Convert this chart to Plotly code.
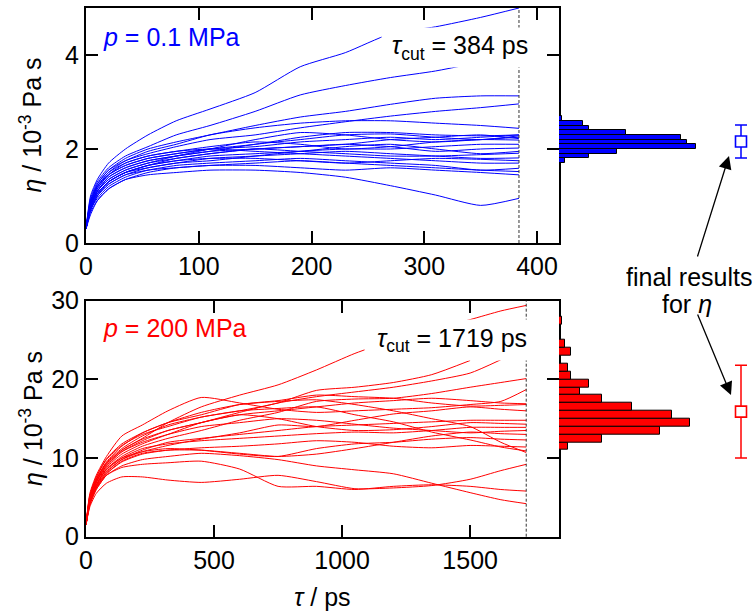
import plotly.graph_objects as go

W, H = 756, 612
def px(x):
    return x / W
def py(y):
    return 1 - y / H

FONT = "Arial, 'Liberation Sans', sans-serif"
BLUE = "rgb(0,0,255)"
RED = "rgb(255,0,0)"

# ---------------- data: p = 0.1 MPa ----------------
tau_01 = [0, 4, 10, 20, 35, 55, 80, 110, 150, 190, 230, 270, 310, 350, 384]
eta_01 = [
    [0.3, 1.0, 1.35, 1.7, 2.0, 2.3, 2.6, 2.85, 3.2, 3.75, 4.05, 4.45, 4.6, 4.8, 5.0],
    [0.3, 0.95, 1.3, 1.6, 1.85, 2.05, 2.3, 2.5, 2.8, 3.15, 3.35, 3.52, 3.66, 3.85, None],
    [0.3, 0.9, 1.25, 1.55, 1.8, 2.0, 2.15, 2.3, 2.5, 2.68, 2.8, 2.95, 3.08, 3.13, 3.13],
    [0.3, 0.85, 1.2, 1.5, 1.75, 1.9, 2.05, 2.2, 2.3, 2.45, 2.58, 2.7, 2.8, 2.88, 2.96],
    [0.3, 0.9, 1.25, 1.55, 1.75, 1.95, 2.1, 2.3, 2.45, 2.55, 2.6, 2.6, 2.55, 2.5, 2.44],
    [0.3, 0.85, 1.2, 1.45, 1.65, 1.8, 1.9, 2.0, 2.1, 2.25, 2.35, 2.35, 2.3, 2.28, 2.3],
    [0.3, 0.8, 1.1, 1.4, 1.6, 1.75, 1.85, 1.95, 2.1, 2.2, 2.3, 2.32, 2.25, 2.2, 2.28],
    [0.3, 0.8, 1.1, 1.35, 1.55, 1.7, 1.85, 2.0, 2.2, 2.35, 2.3, 2.2, 2.15, 2.2, 2.25],
    [0.3, 0.75, 1.05, 1.3, 1.5, 1.65, 1.8, 1.9, 2.0, 2.05, 2.1, 2.2, 2.25, 2.3, 2.22],
    [0.3, 0.85, 1.15, 1.45, 1.7, 1.85, 1.95, 2.05, 2.15, 2.1, 2.0, 2.05, 2.15, 2.2, 2.19],
    [0.3, 0.8, 1.1, 1.4, 1.6, 1.75, 1.85, 1.95, 2.0, 2.05, 2.1, 2.05, 1.95, 2.0, 2.02],
    [0.3, 0.75, 1.05, 1.3, 1.5, 1.65, 1.75, 1.85, 1.9, 1.95, 2.05, 2.1, 2.0, 1.9, 1.95],
    [0.3, 0.8, 1.1, 1.35, 1.55, 1.7, 1.8, 1.9, 2.0, 1.95, 1.9, 1.85, 1.85, 1.88, 1.91],
    [0.3, 0.7, 1.0, 1.25, 1.45, 1.6, 1.7, 1.8, 1.85, 1.9, 1.95, 1.9, 1.85, 1.8, 1.81],
    [0.3, 0.75, 1.05, 1.3, 1.5, 1.65, 1.75, 1.8, 1.8, 1.75, 1.7, 1.75, 1.8, 1.78, 1.75],
    [0.3, 0.7, 1.0, 1.25, 1.45, 1.55, 1.65, 1.7, 1.75, 1.8, 1.75, 1.7, 1.65, 1.55, 1.59],
    [0.3, 0.7, 0.95, 1.2, 1.4, 1.55, 1.6, 1.65, 1.7, 1.75, 1.7, 1.65, 1.6, 1.55, 1.52],
    [0.3, 0.65, 0.9, 1.15, 1.35, 1.5, 1.6, 1.65, 1.65, 1.6, 1.55, 1.6, 1.55, 1.5, 1.45],
    [0.3, 0.6, 0.9, 1.15, 1.35, 1.45, 1.5, 1.55, 1.55, 1.5, 1.4, 1.22, 1.02, 0.8, 0.95],
    [0.3, 0.8, 1.15, 1.45, 1.65, 1.8, 1.9, 2.0, 2.05, 2.15, 2.2, 2.25, 2.2, 2.25, 2.3],
    [0.3, 0.7, 1.0, 1.3, 1.5, 1.6, 1.7, 1.75, 1.85, 1.95, 2.0, 2.0, 2.05, 2.1, 2.1],
    [0.3, 0.85, 1.2, 1.5, 1.7, 1.85, 1.95, 2.0, 1.95, 1.9, 1.85, 1.8, 1.75, 1.7, 1.7],
]
tcut_01 = 384
hist_01_eta = [1.75, 1.85, 1.95, 2.05, 2.15, 2.25, 2.35, 2.45, 2.55, 2.65]
hist_01_count = [2, 10, 19, 45, 42, 40, 22, 10, 8, 1]
result_01 = 2.16
result_01_err = 0.35

# ---------------- data: p = 200 MPa ----------------
tau_200 = [0, 15, 40, 80, 140, 220, 320, 450, 600, 750, 900, 1050, 1200, 1350, 1500, 1620, 1719]
eta_200 = [
    [1.5, 5.0, 7.2, 9.3, 11.0, 12.5, 14.5, 16.5, 18.0, 19.3, 21.2, 23.3, 25.0, 26.4, 27.6, 28.7, 29.4],
    [1.5, 5.2, 7.5, 9.8, 11.6, 13.0, 14.0, 15.2, 16.0, 17.0, 18.6, 19.0, 19.6, 20.6, 22.4, None, None],
    [1.5, 4.8, 7.0, 9.0, 10.8, 12.2, 13.5, 14.5, 15.8, 17.0, 17.8, 18.4, 19.0, 19.8, 20.8, 22.5, None],
    [1.5, 4.5, 6.6, 8.6, 10.2, 11.5, 12.5, 13.5, 14.8, 15.8, 17.2, 17.5, 17.6, 18.2, 19.0, 19.6, 20.1],
    [1.5, 5.5, 7.8, 10.2, 12.8, 14.2, 16.0, 17.7, 17.0, 16.2, 15.8, 16.0, 16.2, 16.4, 16.8, 17.2, 18.7],
    [1.5, 4.6, 6.8, 8.8, 10.5, 11.8, 13.0, 14.5, 15.5, 16.0, 16.5, 17.0, 17.3, 17.6, 17.3, 17.0, 16.9],
    [1.5, 5.0, 7.3, 9.5, 11.5, 13.2, 14.5, 15.5, 16.8, 17.3, 18.0, 17.8, 17.6, 17.0, 16.6, 16.7, 16.8],
    [1.5, 4.3, 6.3, 8.2, 9.8, 11.0, 12.0, 12.5, 13.0, 13.5, 14.0, 14.2, 14.4, 14.6, 14.8, 14.8, 14.8],
    [1.5, 4.4, 6.5, 8.5, 10.0, 11.2, 11.8, 12.2, 12.5, 12.8, 13.1, 13.3, 13.2, 13.5, 13.9, 13.9, 13.9],
    [1.5, 4.7, 6.9, 9.0, 10.8, 12.0, 13.0, 14.0, 14.5, 15.0, 14.8, 14.3, 13.8, 13.5, 13.2, 13.4, 13.5],
    [1.5, 4.9, 7.2, 9.4, 11.2, 12.8, 14.2, 15.2, 16.0, 16.3, 16.5, 15.5, 14.6, 13.3, 12.3, 11.4, 10.9],
    [1.5, 5.3, 7.6, 9.9, 11.8, 13.2, 14.5, 15.8, 16.8, 17.2, 17.4, 16.8, 16.0, 15.0, 14.0, 12.0, 10.7],
    [1.5, 4.2, 6.2, 8.0, 9.5, 10.5, 11.0, 11.3, 11.5, 11.8, 12.2, 12.0, 11.5, 11.3, 11.6, 11.5, 11.4],
    [1.5, 4.5, 6.6, 8.6, 10.0, 10.8, 11.2, 11.0, 10.5, 10.2, 11.2, 11.8, 12.0, 12.4, 12.6, 12.4, 12.3],
    [1.5, 4.0, 6.0, 7.8, 9.0, 9.8, 10.2, 10.6, 10.3, 9.8, 9.0, 8.5, 8.0, 6.8, 5.6, 4.7, 4.2],
    [1.5, 3.8, 5.5, 6.8, 7.6, 7.6, 7.2, 6.9, 7.3, 7.8, 7.0, 6.1, 6.2, 6.5, 7.3, 8.4, 9.2],
    [1.5, 4.1, 6.0, 7.8, 8.8, 9.2, 9.4, 9.6, 8.6, 6.4, 6.4, 6.0, 6.4, 6.6, 6.4, 6.0, 5.8],
    [1.5, 4.8, 7.0, 9.2, 11.0, 12.4, 13.5, 14.5, 15.5, 15.0, 14.0, 13.5, 13.6, 14.0, 14.5, 14.4, 14.3],
    [1.5, 4.4, 6.4, 8.3, 9.8, 10.8, 11.6, 12.4, 13.2, 14.2, 14.0, 14.8, 15.6, 16.0, 16.5, 16.2, 16.0],
    [1.5, 4.3, 6.2, 8.0, 9.6, 10.6, 11.0, 11.0, 10.6, 10.2, 10.5, 11.2, 12.0, 12.8, 13.3, 13.1, 13.0],
]
tcut_200 = 1719
hist_200_eta = [11.5, 12.5, 13.5, 14.5, 15.5, 16.5, 17.5, 18.5, 19.5, 20.5, 21.5, 22.5, 23.5, 24.5, 25.5, 26.5, 27.5]
hist_200_count = [3, 14, 33, 43, 37, 24, 14, 7, 10, 4, 3, 0, 4, 2, 0, 0, 1]
result_200 = 15.9
result_200_err = 5.9

# ---------------- figure ----------------
fig = go.Figure()

for run in eta_01:
    fig.add_trace(go.Scatter(x=tau_01, y=run, mode="lines", xaxis="x", yaxis="y",
                             line=dict(color=BLUE, width=1, shape="spline", smoothing=0.6),
                             showlegend=False, hoverinfo="skip"))
for run in eta_200:
    fig.add_trace(go.Scatter(x=tau_200, y=run, mode="lines", xaxis="x2", yaxis="y2",
                             line=dict(color=RED, width=1, shape="spline", smoothing=0.6),
                             showlegend=False, hoverinfo="skip"))

fig.add_trace(go.Bar(x=hist_01_count, y=hist_01_eta, orientation="h", width=0.1,
                     xaxis="x3", yaxis="y", showlegend=False,
                     marker=dict(color=BLUE, line=dict(color="black", width=1))))
fig.add_trace(go.Bar(x=hist_200_count, y=hist_200_eta, orientation="h", width=1.0,
                     xaxis="x4", yaxis="y2", showlegend=False,
                     marker=dict(color=RED, line=dict(color="black", width=1))))

fig.add_trace(go.Scatter(x=[0], y=[result_01], mode="markers", xaxis="x5", yaxis="y",
                         showlegend=False,
                         marker=dict(symbol="square", size=11, color="white",
                                     line=dict(color=BLUE, width=1.6)),
                         error_y=dict(type="data", array=[result_01_err], color=BLUE,
                                      thickness=1.5, width=6)))
fig.add_trace(go.Scatter(x=[0], y=[result_200], mode="markers", xaxis="x6", yaxis="y2",
                         showlegend=False,
                         marker=dict(symbol="square", size=11, color="white",
                                     line=dict(color=RED, width=1.6)),
                         error_y=dict(type="data", array=[result_200_err], color=RED,
                                      thickness=1.5, width=6)))

axis_common = dict(showline=True, linecolor="black", linewidth=2, mirror="ticks",
                   ticks="inside", ticklen=12, tickwidth=1.5, tickcolor="black",
                   showgrid=False, zeroline=False, automargin=False,
                   tickfont=dict(family=FONT, size=25, color="black"))

hidden = dict(visible=False, showgrid=False, zeroline=False, automargin=False)

fig.update_layout(
    template="none",
    width=W, height=H, margin=dict(l=0, r=0, t=0, b=0, pad=0, autoexpand=False),
    paper_bgcolor="white", plot_bgcolor="white",
    bargap=0, showlegend=False,
    xaxis=dict(domain=[px(86), px(559)], anchor="y", range=[0, 419.5],
               tick0=0, dtick=100, **axis_common),
    yaxis=dict(domain=[py(243), py(8)], anchor="x", range=[0, 5],
               tick0=0, dtick=2, **axis_common),
    xaxis2=dict(domain=[px(86), px(559)], anchor="y2", range=[0, 1847],
                tick0=0, dtick=500, **axis_common),
    yaxis2=dict(domain=[py(536.7), py(300.7)], anchor="x2", range=[0, 30],
                tick0=0, dtick=10, **axis_common),
    xaxis3=dict(domain=[px(559), px(745)], anchor="y", range=[0, 61], **hidden),
    xaxis4=dict(domain=[px(559), px(745)], anchor="y2", range=[0, 61], **hidden),
    xaxis5=dict(domain=[px(726), 1], anchor="y", range=[-0.5, 0.5], **hidden),
    xaxis6=dict(domain=[px(726), 1], anchor="y2", range=[-0.5, 0.5], **hidden),
)

fig.add_shape(type="line", xref="x", yref="y domain", x0=tcut_01, x1=tcut_01, y0=0, y1=1,
              line=dict(color="#333", width=1, dash="3px,2px"))
fig.add_shape(type="line", xref="x2", yref="y2 domain", x0=tcut_200, x1=tcut_200, y0=0, y1=1,
              line=dict(color="#333", width=1, dash="3px,2px"))

ann = []
ann.append(dict(text="<i>p</i> = 0.1 MPa", xref="paper", yref="paper", x=px(101), y=py(37),
                xanchor="left", yanchor="middle", showarrow=False,
                font=dict(family=FONT, size=25, color=BLUE)))
ann.append(dict(text="<i>p</i> = 200 MPa", xref="paper", yref="paper", x=px(101), y=py(328),
                xanchor="left", yanchor="middle", showarrow=False,
                font=dict(family=FONT, size=25, color=RED)))
ann.append(dict(text="<i>τ</i><sub>cut</sub> = %d ps" % tcut_01, xref="paper", yref="paper",
                x=px(460), y=py(47.5), xanchor="center", yanchor="middle", showarrow=False,
                bgcolor="white", width=156, height=39, borderpad=0,
                font=dict(family=FONT, size=25, color="black")))
ann.append(dict(text="<i>τ</i><sub>cut</sub> = %d ps" % tcut_200, xref="paper", yref="paper",
                x=px(452), y=py(340), xanchor="center", yanchor="middle", showarrow=False,
                bgcolor="white", width=174, height=40, borderpad=0,
                font=dict(family=FONT, size=25, color="black")))
ann.append(dict(text="<i>η</i> / 10<sup>-3</sup> Pa s", xref="paper", yref="paper",
                x=px(31), y=py(125.5), xanchor="center", yanchor="middle", textangle=-90,
                showarrow=False, font=dict(family=FONT, size=25, color="black")))
ann.append(dict(text="<i>η</i> / 10<sup>-3</sup> Pa s", xref="paper", yref="paper",
                x=px(31), y=py(419), xanchor="center", yanchor="middle", textangle=-90,
                showarrow=False, font=dict(family=FONT, size=25, color="black")))
ann.append(dict(text="<i>τ</i> / ps", xref="paper", yref="paper",
                x=px(322), y=py(597), xanchor="center", yanchor="middle",
                showarrow=False, font=dict(family=FONT, size=25, color="black")))
ann.append(dict(text="final results", xref="paper", yref="paper",
                x=px(689), y=py(277), xanchor="center", yanchor="middle",
                showarrow=False, height=26, borderpad=0,
                font=dict(family=FONT, size=25, color="black")))
ann.append(dict(text="for <i>η</i>", xref="paper", yref="paper",
                x=px(687), y=py(303.5), xanchor="center", yanchor="middle",
                showarrow=False, height=26, borderpad=0,
                font=dict(family=FONT, size=25, color="black")))
ann.append(dict(text="", xref="paper", yref="paper", x=px(729), y=py(156),
                axref="pixel", ayref="pixel", ax=-32, ay=102, showarrow=True,
                arrowhead=2, arrowsize=2, arrowwidth=1.3, arrowcolor="black"))
ann.append(dict(text="", xref="paper", yref="paper", x=px(731), y=py(395),
                axref="pixel", ayref="pixel", ax=-34, ay=-82, showarrow=True,
                arrowhead=2, arrowsize=2, arrowwidth=1.3, arrowcolor="black"))
fig.update_layout(annotations=ann)

fig.write_html("out.html")
